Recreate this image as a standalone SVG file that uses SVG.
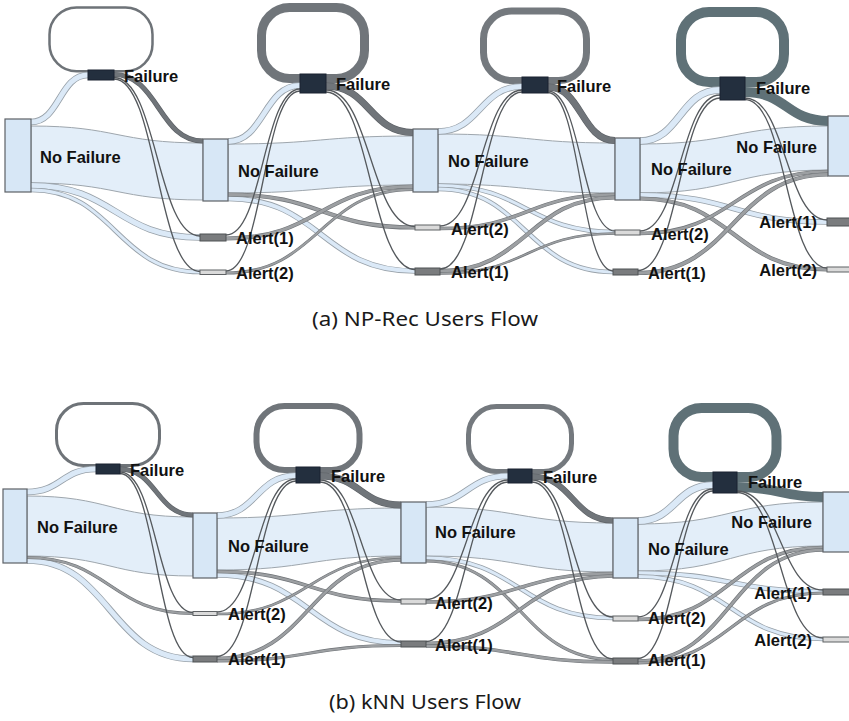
<svg xmlns="http://www.w3.org/2000/svg" xmlns:xlink="http://www.w3.org/1999/xlink" width="849" height="721" viewBox="0 0 849 721">
<style>
  .big {fill:#e3eef9; stroke:#9ea6ad; stroke-width:1}
  .lbo {fill:none; stroke:#98a1a9}
  .lbi {fill:none; stroke:#dbe9f7}
  .gro {fill:none; stroke:#6f7377}
  .gri {fill:none; stroke:#9c9fa2}
  .dko {fill:none; stroke:#5c6065}
  .dki {fill:none; stroke:#70757a}
  .dk4 {fill:none; stroke:#5f7177}
  .thin {fill:none; stroke:#55595d; stroke-width:1.3}
  .loop {fill:none}
  .nf {fill:#d7e7f6; stroke:#5d6166; stroke-width:1.2}
  .fl {fill:#232f3e; stroke:#1a2330; stroke-width:1}
  .a1 {fill:#7a7c7e; stroke:#4f5255; stroke-width:1}
  .a2 {fill:#dadada; stroke:#5f6265; stroke-width:1}
  .lbl {font-family:"Liberation Sans", Arial, sans-serif; font-weight:bold; font-size:16.5px; fill:#111}
  .end {text-anchor:end}
  .cap {font-family:"Noto Sans", "Open Sans", sans-serif; font-size:19px; fill:#1a1a1a; text-anchor:middle}
</style>
<defs>
  <!-- panel (a) link centre lines -->
  <path id="t1" d="M31 122C59.5 122 59.5 75 88 75"/>
  <path id="t3" d="M31 185.5C115.5 185.5 115.5 237.5 200 237.5"/>
  <path id="t4" d="M31 190C115.5 190 115.5 272 200 272"/>
  <path id="t5" d="M114 74.5C158.5 74.5 158.5 141 203 141"/>
  <path id="t6" d="M114 77.5C157 77.5 157 236 200 236"/>
  <path id="t7" d="M114 79C157 79 157 271.5 200 271.5"/>
  <path id="t8" d="M228 141.5C264 141.5 264 85.5 300 85.5"/>
  <path id="t10" d="M228 194.5C321.5 194.5 321.5 227.5 415 227.5"/>
  <path id="t11" d="M228 198.5C321.5 198.5 321.5 271 415 271"/>
  <path id="t12" d="M326 86C369.5 86 369.5 132.5 413 132.5"/>
  <path id="t13" d="M326 90C370.5 90 370.5 226.5 415 226.5"/>
  <path id="t14" d="M326 92C370.5 92 370.5 269.5 415 269.5"/>
  <path id="t15" d="M226 235C263 235 263 89 300 89"/>
  <path id="t16" d="M226 238.5C319.5 238.5 319.5 186.5 413 186.5"/>
  <path id="t17" d="M226 271C263 271 263 91 300 91"/>
  <path id="t18" d="M226 273C319.5 273 319.5 189.5 413 189.5"/>
  <path id="t19" d="M438 131.5C480 131.5 480 86.5 522 86.5"/>
  <path id="t21" d="M438 185.5C526.5 185.5 526.5 232 615 232"/>
  <path id="t22" d="M438 189C525.5 189 525.5 272 613 272"/>
  <path id="t23" d="M548 87C581.5 87 581.5 140.5 615 140.5"/>
  <path id="t24" d="M548 91C581.5 91 581.5 231 615 231"/>
  <path id="t25" d="M548 92.5C580.5 92.5 580.5 271 613 271"/>
  <path id="t26" d="M440 226C481 226 481 90 522 90"/>
  <path id="t27" d="M440 228.5C527.5 228.5 527.5 194.5 615 194.5"/>
  <path id="t28" d="M440 269C481 269 481 92 522 92"/>
  <path id="t29" d="M440 271C527.5 271 527.5 197.5 615 197.5"/>
  <path id="t30" d="M440 273.5C527.5 273.5 527.5 233.5 615 233.5"/>
  <path id="t31" d="M640 141C680 141 680 90 720 90"/>
  <path id="t33" d="M640 195C733.5 195 733.5 222 827 222"/>
  <path id="t34" d="M640 198.5C733.5 198.5 733.5 269.5 827 269.5"/>
  <path id="t35" d="M745 92C786.5 92 786.5 121 828 121"/>
  <path id="t36" d="M745 98C786 98 786 220 827 220"/>
  <path id="t37" d="M745 99.5C786 99.5 786 268 827 268"/>
  <path id="t38" d="M640 231C680 231 680 95 720 95"/>
  <path id="t39" d="M640 233.5C734 233.5 734 171.5 828 171.5"/>
  <path id="t40" d="M638 270.5C679 270.5 679 98 720 98"/>
  <path id="t41" d="M638 273C733 273 733 174.5 828 174.5"/>
  <!-- panel (b) link centre lines -->
  <path id="b1" d="M27 492C61.5 492 61.5 469 96 469"/>
  <path id="b3" d="M27 557.5C110 557.5 110 613.5 193 613.5"/>
  <path id="b4" d="M27 560.5C110 560.5 110 659 193 659"/>
  <path id="b5" d="M120 469C156.5 469 156.5 515 193 515"/>
  <path id="b6" d="M120 472C156.5 472 156.5 612.5 193 612.5"/>
  <path id="b7" d="M120 473.5C156.5 473.5 156.5 657.5 193 657.5"/>
  <path id="b8" d="M217 515.5C256.5 515.5 256.5 475.5 296 475.5"/>
  <path id="b10" d="M217 571.5C309 571.5 309 601 401 601"/>
  <path id="b11" d="M217 575C309 575 309 643 401 643"/>
  <path id="b12" d="M320 476C360.5 476 360.5 505 401 505"/>
  <path id="b13" d="M320 480C360.5 480 360.5 600 401 600"/>
  <path id="b14" d="M320 482C360.5 482 360.5 642 401 642"/>
  <path id="b15" d="M217 612C256.5 612 256.5 479 296 479"/>
  <path id="b16" d="M217 614C309 614 309 557.5 401 557.5"/>
  <path id="b17" d="M217 656.5C256.5 656.5 256.5 481 296 481"/>
  <path id="b18" d="M217 658.5C309 658.5 309 560 401 560"/>
  <path id="b19" d="M217 661C309 661 309 645.5 401 645.5"/>
  <path id="b20" d="M426 504.5C467 504.5 467 476 508 476"/>
  <path id="b22" d="M426 558C519.5 558 519.5 618 613 618"/>
  <path id="b23" d="M426 561C519.5 561 519.5 659.5 613 659.5"/>
  <path id="b24" d="M532 476.5C572.5 476.5 572.5 520.5 613 520.5"/>
  <path id="b25" d="M532 480C572.5 480 572.5 617 613 617"/>
  <path id="b26" d="M532 482C572.5 482 572.5 659 613 659"/>
  <path id="b27" d="M426 599.5C467 599.5 467 480 508 480"/>
  <path id="b28" d="M426 602C519.5 602 519.5 573.5 613 573.5"/>
  <path id="b29" d="M426 641.5C467 641.5 467 482 508 482"/>
  <path id="b30" d="M426 643.5C519.5 643.5 519.5 576 613 576"/>
  <path id="b31" d="M426 646C519.5 646 519.5 662 613 662"/>
  <path id="b32" d="M638 521C675.5 521 675.5 485 713 485"/>
  <path id="b34" d="M638 573C730.5 573 730.5 591.5 823 591.5"/>
  <path id="b35" d="M638 576.5C730.5 576.5 730.5 639 823 639"/>
  <path id="b36" d="M737 487C780 487 780 497 823 497"/>
  <path id="b37" d="M737 491C780 491 780 590 823 590"/>
  <path id="b38" d="M737 492.5C780 492.5 780 638 823 638"/>
  <path id="b39" d="M638 617C675.5 617 675.5 489 713 489"/>
  <path id="b40" d="M638 619.5C730.5 619.5 730.5 547.5 823 547.5"/>
  <path id="b41" d="M638 658.5C675.5 658.5 675.5 491 713 491"/>
  <path id="b42" d="M638 661C730.5 661 730.5 550 823 550"/>
  <path id="b43" d="M638 663C730.5 663 730.5 593 823 593"/>
</defs>

<g id="connectors">
  <!-- No Failure to No Failure bands -->
  <path class="big" d="M31 126C117 126 117 143 203 143L203 200C117 200 117 183 31 183Z"/>
  <path class="big" d="M228 144C320.5 144 320.5 136 413 136L413 185C320.5 185 320.5 193 228 193Z"/>
  <path class="big" d="M438 134C526.5 134 526.5 143 615 143L615 193C526.5 193 526.5 184 438 184Z"/>
  <path class="big" d="M640 144C734 144 734 126 828 126L828 170C734 170 734 193 640 193Z"/>
  <path class="big" d="M27 496C110 496 110 517 193 517L193 576C110 576 110 556 27 556Z"/>
  <path class="big" d="M217 518C309 518 309 508 401 508L401 556C309 556 309 570 217 570Z"/>
  <path class="big" d="M426 507C519.5 507 519.5 523 613 523L613 572C519.5 572 519.5 556 426 556Z"/>
  <path class="big" d="M638 524C730.5 524 730.5 502 823 502L823 546C730.5 546 730.5 571 638 571Z"/>

  <!-- Failure self-loops -->
  <rect class="loop" x="49.5" y="7.5" width="103" height="63.75" rx="27" stroke="#6e7378" stroke-width="2.5"/>
  <rect class="loop" x="261.5" y="7.5" width="103" height="71" rx="28" stroke="#70757a" stroke-width="9"/>
  <rect class="loop" x="483.5" y="11" width="103" height="69.5" rx="28" stroke="#74797e" stroke-width="7"/>
  <rect class="loop" x="681" y="12" width="103" height="70" rx="28" stroke="#5f7177" stroke-width="10"/>
  <rect class="loop" x="56.5" y="403.5" width="103" height="62" rx="27" stroke="#6e7378" stroke-width="3"/>
  <rect class="loop" x="256.5" y="406" width="103" height="64" rx="28" stroke="#70757a" stroke-width="6"/>
  <rect class="loop" x="468.5" y="406.5" width="103" height="65" rx="28" stroke="#74797e" stroke-width="5"/>
  <rect class="loop" x="673.5" y="408" width="103" height="69" rx="28" stroke="#5f7177" stroke-width="10"/>

  <!-- light blue bands from No Failure -->
  <use href="#t1" class="lbo" stroke-width="6.6"/><use href="#t1" class="lbi" stroke-width="5"/>
  <use href="#t3" class="lbo" stroke-width="6.6"/><use href="#t3" class="lbi" stroke-width="5"/>
  <use href="#t4" class="lbo" stroke-width="4.6"/><use href="#t4" class="lbi" stroke-width="3"/>
  <use href="#t8" class="lbo" stroke-width="6.6"/><use href="#t8" class="lbi" stroke-width="5"/>
  <use href="#t11" class="lbo" stroke-width="5.6"/><use href="#t11" class="lbi" stroke-width="4"/>
  <use href="#t19" class="lbo" stroke-width="6.6"/><use href="#t19" class="lbi" stroke-width="5"/>
  <use href="#t21" class="lbo" stroke-width="4.6"/><use href="#t21" class="lbi" stroke-width="3"/>
  <use href="#t22" class="lbo" stroke-width="4.6"/><use href="#t22" class="lbi" stroke-width="3"/>
  <use href="#t31" class="lbo" stroke-width="7.6"/><use href="#t31" class="lbi" stroke-width="6"/>
  <use href="#t33" class="lbo" stroke-width="5.6"/><use href="#t33" class="lbi" stroke-width="4"/>
  <use href="#b1" class="lbo" stroke-width="6.6"/><use href="#b1" class="lbi" stroke-width="5"/>
  <use href="#b4" class="lbo" stroke-width="6.6"/><use href="#b4" class="lbi" stroke-width="5"/>
  <use href="#b8" class="lbo" stroke-width="6.6"/><use href="#b8" class="lbi" stroke-width="5"/>
  <use href="#b11" class="lbo" stroke-width="5.6"/><use href="#b11" class="lbi" stroke-width="4"/>
  <use href="#b20" class="lbo" stroke-width="6.6"/><use href="#b20" class="lbi" stroke-width="5"/>
  <use href="#b22" class="lbo" stroke-width="4.6"/><use href="#b22" class="lbi" stroke-width="3"/>
  <use href="#b32" class="lbo" stroke-width="7.6"/><use href="#b32" class="lbi" stroke-width="6"/>
  <use href="#b34" class="lbo" stroke-width="5.1"/><use href="#b34" class="lbi" stroke-width="3.5"/>
  <use href="#b35" class="lbo" stroke-width="4.6"/><use href="#b35" class="lbi" stroke-width="3"/>

  <!-- grey bands -->
  <use href="#t10" class="gro" stroke-width="4.2"/><use href="#t10" class="gri" stroke-width="3"/>
  <use href="#t16" class="gro" stroke-width="4.2"/><use href="#t16" class="gri" stroke-width="3"/>
  <use href="#t18" class="gro" stroke-width="3"/><use href="#t18" class="gri" stroke-width="1.8"/>
  <use href="#t27" class="gro" stroke-width="3.7"/><use href="#t27" class="gri" stroke-width="2.5"/>
  <use href="#t29" class="gro" stroke-width="4.2"/><use href="#t29" class="gri" stroke-width="3"/>
  <use href="#t30" class="gro" stroke-width="2.5"/><use href="#t30" class="gri" stroke-width="1.3"/>
  <use href="#t34" class="gro" stroke-width="4.2"/><use href="#t34" class="gri" stroke-width="3"/>
  <use href="#t39" class="gro" stroke-width="3.7"/><use href="#t39" class="gri" stroke-width="2.5"/>
  <use href="#t41" class="gro" stroke-width="4.2"/><use href="#t41" class="gri" stroke-width="3"/>
  <use href="#b3" class="gro" stroke-width="3.2"/><use href="#b3" class="gri" stroke-width="2"/>
  <use href="#b10" class="gro" stroke-width="3.7"/><use href="#b10" class="gri" stroke-width="2.5"/>
  <use href="#b16" class="gro" stroke-width="2.7"/><use href="#b16" class="gri" stroke-width="1.5"/>
  <use href="#b18" class="gro" stroke-width="3.7"/><use href="#b18" class="gri" stroke-width="2.5"/>
  <use href="#b19" class="gro" stroke-width="3.2"/><use href="#b19" class="gri" stroke-width="2"/>
  <use href="#b23" class="gro" stroke-width="3.2"/><use href="#b23" class="gri" stroke-width="2"/>
  <use href="#b28" class="gro" stroke-width="3.7"/><use href="#b28" class="gri" stroke-width="2.5"/>
  <use href="#b30" class="gro" stroke-width="3.7"/><use href="#b30" class="gri" stroke-width="2.5"/>
  <use href="#b31" class="gro" stroke-width="3.7"/><use href="#b31" class="gri" stroke-width="2.5"/>
  <use href="#b40" class="gro" stroke-width="3.7"/><use href="#b40" class="gri" stroke-width="2.5"/>
  <use href="#b42" class="gro" stroke-width="3.7"/><use href="#b42" class="gri" stroke-width="2.5"/>
  <use href="#b43" class="gro" stroke-width="3.2"/><use href="#b43" class="gri" stroke-width="2"/>

  <!-- dark bands from Failure to No Failure -->
  <use href="#t5" class="dko" stroke-width="5"/><use href="#t5" class="dki" stroke-width="3.8"/>
  <use href="#t12" class="dko" stroke-width="7"/><use href="#t12" class="dki" stroke-width="5.8"/>
  <use href="#t23" class="dko" stroke-width="7"/><use href="#t23" class="dki" stroke-width="5.8"/>
  <use href="#t35" class="dk4" stroke-width="10"/>
  <use href="#b5" class="dko" stroke-width="5"/><use href="#b5" class="dki" stroke-width="3.8"/>
  <use href="#b12" class="dko" stroke-width="7"/><use href="#b12" class="dki" stroke-width="5.8"/>
  <use href="#b24" class="dko" stroke-width="6"/><use href="#b24" class="dki" stroke-width="4.8"/>
  <use href="#b36" class="dk4" stroke-width="10"/>

  <!-- thin flows to and from the alert nodes -->
  <use href="#t6" class="thin"/><use href="#t7" class="thin"/>
  <use href="#t13" class="thin"/><use href="#t14" class="thin"/>
  <use href="#t15" class="thin"/><use href="#t17" class="thin"/>
  <use href="#t24" class="thin"/><use href="#t25" class="thin"/>
  <use href="#t26" class="thin"/><use href="#t28" class="thin"/>
  <use href="#t36" class="thin"/><use href="#t37" class="thin"/>
  <use href="#t38" class="thin"/><use href="#t40" class="thin"/>
  <use href="#b6" class="thin"/><use href="#b7" class="thin"/>
  <use href="#b13" class="thin"/><use href="#b14" class="thin"/>
  <use href="#b15" class="thin"/><use href="#b17" class="thin"/>
  <use href="#b25" class="thin"/><use href="#b26" class="thin"/>
  <use href="#b27" class="thin"/><use href="#b29" class="thin"/>
  <use href="#b37" class="thin"/><use href="#b38" class="thin"/>
  <use href="#b39" class="thin"/><use href="#b41" class="thin"/>
</g>

<!-- panel (a) nodes -->
<g id="a-nf1"><rect class="nf" x="5" y="119" width="26" height="73"/><text class="lbl" x="40" y="163">No Failure</text></g>
<g id="a-f1"><rect class="fl" x="88" y="70" width="26" height="10"/><text class="lbl" x="124" y="82">Failure</text></g>
<g id="a-nf2"><rect class="nf" x="203" y="139" width="25" height="62"/><text class="lbl" x="238" y="177">No Failure</text></g>
<g id="a-al1-2"><rect class="a1" x="200" y="234" width="26" height="7"/><text class="lbl" x="236" y="244">Alert(1)</text></g>
<g id="a-al2-2"><rect class="a2" x="200" y="270" width="26" height="4.5"/><text class="lbl" x="236" y="279">Alert(2)</text></g>
<g id="a-f2"><rect class="fl" x="300" y="74" width="26" height="19"/><text class="lbl" x="336" y="90">Failure</text></g>
<g id="a-nf3"><rect class="nf" x="413" y="129" width="25" height="63"/><text class="lbl" x="448" y="167">No Failure</text></g>
<g id="a-al2-3"><rect class="a2" x="415" y="225" width="25" height="5"/><text class="lbl" x="451" y="235">Alert(2)</text></g>
<g id="a-al1-3"><rect class="a1" x="415" y="268" width="25" height="7"/><text class="lbl" x="451" y="278">Alert(1)</text></g>
<g id="a-f3"><rect class="fl" x="522" y="77" width="26" height="16"/><text class="lbl" x="557" y="92">Failure</text></g>
<g id="a-nf4"><rect class="nf" x="615" y="138" width="25" height="62"/><text class="lbl" x="651" y="175">No Failure</text></g>
<g id="a-al2-4"><rect class="a2" x="615" y="230" width="25" height="5"/><text class="lbl" x="651" y="240">Alert(2)</text></g>
<g id="a-al1-4"><rect class="a1" x="613" y="269" width="25" height="6"/><text class="lbl" x="648" y="279">Alert(1)</text></g>
<g id="a-f4"><rect class="fl" x="720" y="77" width="25" height="23"/><text class="lbl" x="756" y="94">Failure</text></g>
<g id="a-nf5"><rect class="nf" x="828" y="116" width="25" height="60"/><text class="lbl end" x="817" y="153">No Failure</text></g>
<g id="a-al1-5"><rect class="a1" x="827" y="218" width="25" height="8"/><text class="lbl end" x="817" y="228">Alert(1)</text></g>
<g id="a-al2-5"><rect class="a2" x="827" y="267" width="25" height="5"/><text class="lbl end" x="817" y="276">Alert(2)</text></g>

<!-- panel (b) nodes -->
<g id="b-nf1"><rect class="nf" x="3" y="489" width="24" height="74"/><text class="lbl" x="37" y="533">No Failure</text></g>
<g id="b-f1"><rect class="fl" x="96" y="464" width="24" height="10"/><text class="lbl" x="130" y="476">Failure</text></g>
<g id="b-nf2"><rect class="nf" x="193" y="513" width="24" height="65"/><text class="lbl" x="228" y="552">No Failure</text></g>
<g id="b-al2-2"><rect class="a2" x="193" y="611.5" width="24" height="4"/><text class="lbl" x="228" y="620">Alert(2)</text></g>
<g id="b-al1-2"><rect class="a1" x="193" y="656" width="24" height="6"/><text class="lbl" x="228" y="665">Alert(1)</text></g>
<g id="b-f2"><rect class="fl" x="296" y="467" width="24" height="16"/><text class="lbl" x="331" y="482">Failure</text></g>
<g id="b-nf3"><rect class="nf" x="401" y="502" width="25" height="61"/><text class="lbl" x="435" y="538">No Failure</text></g>
<g id="b-al2-3"><rect class="a2" x="401" y="599" width="25" height="5"/><text class="lbl" x="435" y="609">Alert(2)</text></g>
<g id="b-al1-3"><rect class="a1" x="401" y="641" width="25" height="6"/><text class="lbl" x="435" y="651">Alert(1)</text></g>
<g id="b-f3"><rect class="fl" x="508" y="469" width="24" height="14"/><text class="lbl" x="543" y="483">Failure</text></g>
<g id="b-nf4"><rect class="nf" x="613" y="518" width="25" height="60"/><text class="lbl" x="648" y="555">No Failure</text></g>
<g id="b-al2-4"><rect class="a2" x="613" y="616" width="25" height="5"/><text class="lbl" x="648" y="624">Alert(2)</text></g>
<g id="b-al1-4"><rect class="a1" x="613" y="658" width="25" height="6"/><text class="lbl" x="648" y="666">Alert(1)</text></g>
<g id="b-f4"><rect class="fl" x="713" y="472" width="24" height="21"/><text class="lbl" x="748" y="488">Failure</text></g>
<g id="b-nf5"><rect class="nf" x="823" y="492" width="30" height="60"/><text class="lbl end" x="812" y="528">No Failure</text></g>
<g id="b-al1-5"><rect class="a1" x="823" y="589" width="30" height="6"/><text class="lbl end" x="812" y="599">Alert(1)</text></g>
<g id="b-al2-5"><rect class="a2" x="823" y="637" width="30" height="5"/><text class="lbl end" x="812" y="646">Alert(2)</text></g>

<!-- captions -->
<text class="cap" x="425" y="326" textLength="226" lengthAdjust="spacingAndGlyphs">(a) NP-Rec Users Flow</text>
<text class="cap" x="425" y="709" textLength="192" lengthAdjust="spacingAndGlyphs">(b) kNN Users Flow</text>
</svg>
